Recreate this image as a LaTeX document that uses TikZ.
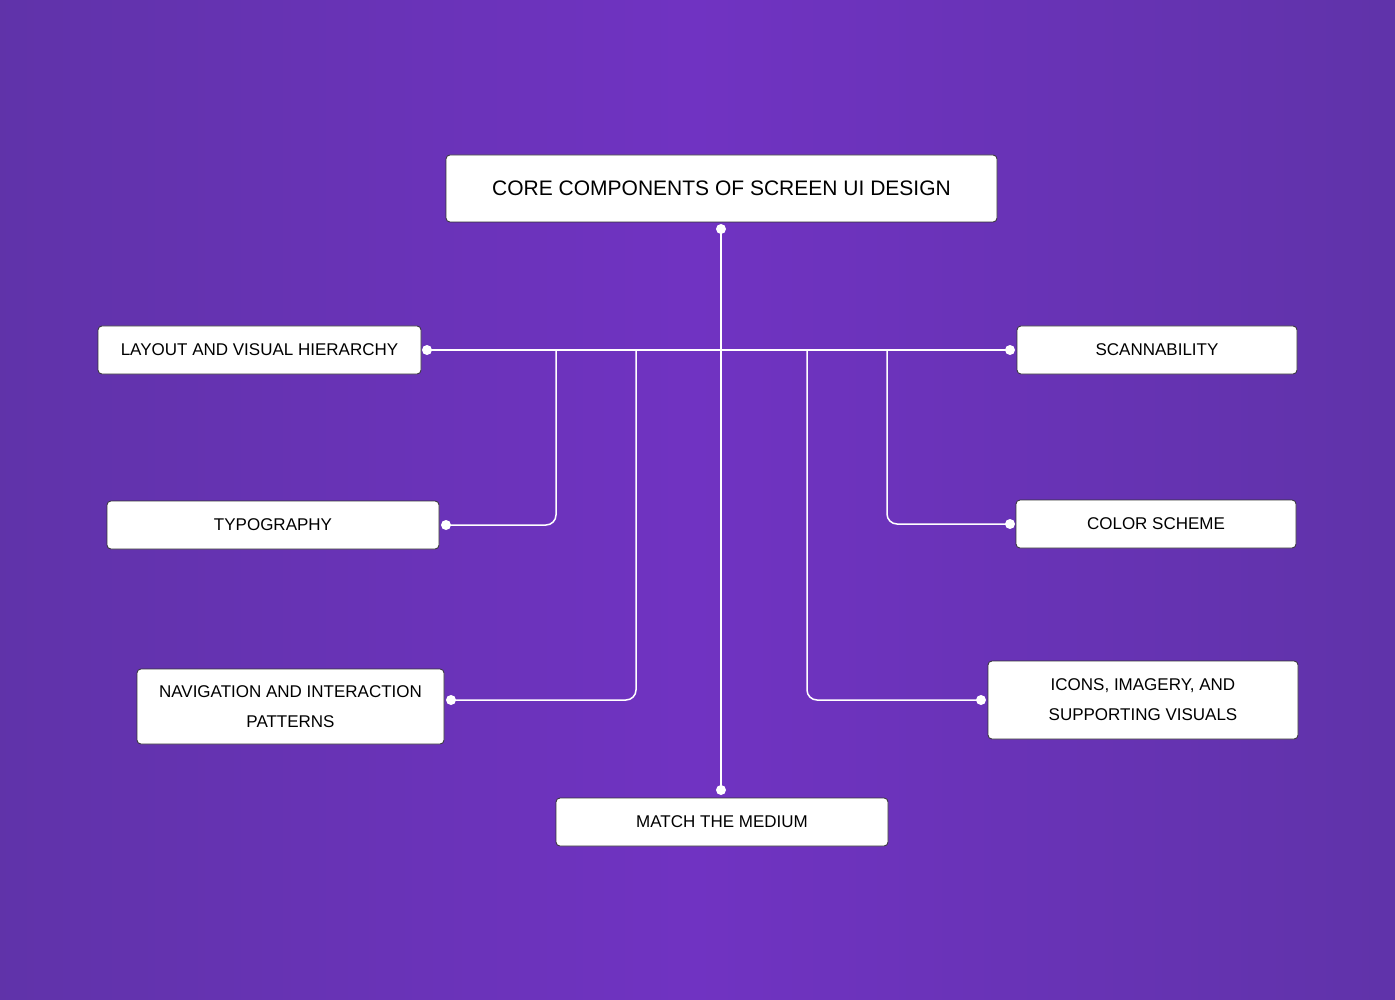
\documentclass[tikz,border=0pt]{standalone}
\usepackage{fontspec}
\setmainfont{Liberation Sans}
\begin{document}
\begin{tikzpicture}[x=1pt,y=-1pt,
  box/.style={draw=black!80,line width=0.8pt,fill=white,rounded corners=4pt,inner sep=0pt,align=center,font=\fontsize{17}{30}\selectfont,text=black},
  ln/.style={draw=white,line width=1.5pt,rounded corners=10pt},
  dot/.style={circle,fill=white,inner sep=0pt,minimum size=10pt}]
\shade[left color=blue!45!violet!80!black!80,right color=blue!45!violet!80!black!80,middle color=violet!60!blue!80] (0,0) rectangle (1395,1000);
\path[use as bounding box] (0,0) rectangle (1395,1000);
\node[box,minimum width=551pt,minimum height=67pt,font=\fontsize{21}{24}\selectfont] (core) at (721.5,188.5) {CORE COMPONENTS OF SCREEN UI DESIGN};
\node[box,minimum width=323pt,minimum height=48pt] (lay) at (259.5,350) {LAYOUT AND VISUAL HIERARCHY};
\node[box,minimum width=280pt,minimum height=48pt] (scan) at (1157,350) {SCANNABILITY};
\node[box,minimum width=332pt,minimum height=48pt] (typo) at (273,525) {TYPOGRAPHY};
\node[box,minimum width=280pt,minimum height=48pt] (col) at (1156,524) {COLOR SCHEME};
\node[box,minimum width=307pt,minimum height=75pt] (nav) at (290.5,706.5) {NAVIGATION AND INTERACTION\\PATTERNS};
\node[box,minimum width=310pt,minimum height=78pt] (ico) at (1143,700) {ICONS, IMAGERY, AND\\SUPPORTING VISUALS};
\node[box,minimum width=332pt,minimum height=48pt] (med) at (722,822) {MATCH THE MEDIUM};
\node[dot] (d0) at (721,229) {};
\node[dot] (d1) at (721,790) {};
\node[dot] (dl) at (427,350) {};
\node[dot] (ds) at (1010,350) {};
\node[dot] (dt) at (446,525) {};
\node[dot] (dc) at (1010,524) {};
\node[dot] (dn) at (451,700) {};
\node[dot] (di) at (981,700) {};
\draw[ln] (d0.center) -- (d1.center);
\draw[ln] (dl.center) -- (ds.center);
\draw[ln] (556,350) -- (556,525) -- (dt.center);
\draw[ln] (636,350) -- (636,700) -- (dn.center);
\draw[ln] (807,350) -- (807,700) -- (di.center);
\draw[ln] (887,350) -- (887,524) -- (dc.center);
\end{tikzpicture}
\end{document}
